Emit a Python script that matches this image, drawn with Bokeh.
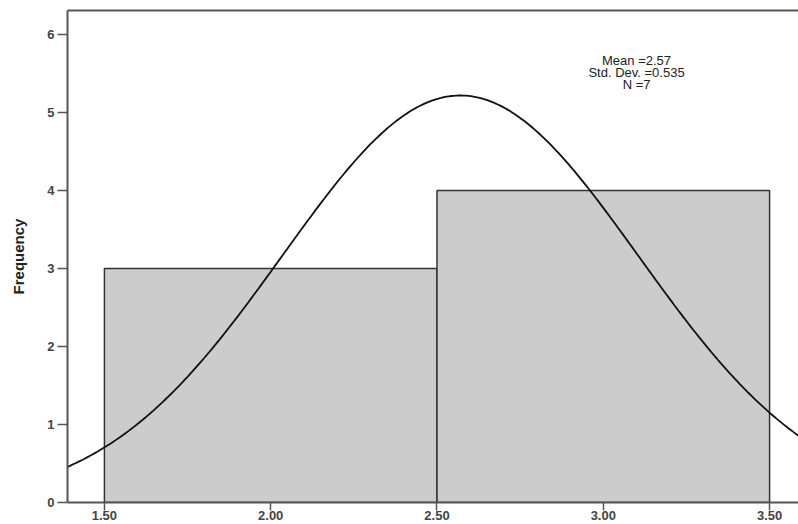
import numpy as np
from bokeh.plotting import figure
from bokeh.models import FixedTicker, NumeralTickFormatter, LinearAxis, Range1d, ColumnDataSource
from bokeh.core.properties import value
from bokeh.embed import file_html
from bokeh.resources import INLINE

# Histogram data
bin_left = [1.5, 2.5]
bin_right = [2.5, 3.5]
counts = [3, 4]

# Stated statistics
mean = 2.57
std_dev = 0.535
n_obs = 7
bin_width = 1.0

stats_lines = ["Mean =2.57", "Std. Dev. =0.535", "N =7"]
x_ticks = [1.5, 2.0, 2.5, 3.0, 3.5]
y_ticks = [0, 1, 2, 3, 4, 5, 6]

x0, x1 = 1.389, 3.587
y0, y1 = 0, 6.31

p = figure(width=798, height=524, output_backend="svg", toolbar_location=None,
           x_range=Range1d(x0, x1), y_range=Range1d(y0, y1),
           min_border_left=67, min_border_right=0, min_border_top=10, min_border_bottom=22)
p.outline_line_color = None
p.xgrid.visible = False
p.ygrid.visible = False
p.background_fill_color = "white"

p.quad(left=bin_left, right=bin_right, bottom=0, top=counts,
       fill_color="#cccccc", line_color="#333333", line_width=1.5)

xs = np.linspace(x0, x1, 300)
ys = n_obs * bin_width / (std_dev * np.sqrt(2 * np.pi)) * np.exp(-0.5 * ((xs - mean) / std_dev) ** 2)
p.line(xs, ys, line_color="#111111", line_width=1.8)

src = ColumnDataSource(dict(x=[3.1] * 3, y=[5.67, 5.515, 5.36], t=stats_lines))
p.text(x="x", y="y", text="t", source=src, text_align="center", text_baseline="middle",
       text_font=value("Liberation Sans"), text_font_size="13px", text_color="#222222")

for ax in (p.xaxis[0], p.yaxis[0]):
    ax.axis_line_color = "#555555"
    ax.axis_line_width = 2
    ax.major_tick_line_color = "#555555"
    ax.major_tick_line_width = 1.5
    ax.major_tick_in = 0
    ax.minor_tick_line_color = None
    ax.major_label_text_font = "Liberation Sans"
    ax.major_label_text_font_style = "bold"
    ax.major_label_text_color = "#444444"

p.xaxis.ticker = FixedTicker(ticks=x_ticks)
p.xaxis.formatter = NumeralTickFormatter(format="0.00")
p.xaxis.major_tick_out = 8
p.xaxis.major_label_standoff = 0
p.xaxis.major_label_text_font_size = "13px"
p.yaxis.ticker = FixedTicker(ticks=y_ticks)
p.yaxis.major_tick_out = 10
p.yaxis.major_label_standoff = 3
p.yaxis.major_label_text_font_size = "13px"
p.yaxis.axis_label = "Frequency"
p.yaxis.axis_label_text_font = "Liberation Sans"
p.yaxis.axis_label_text_font_style = "bold"
p.yaxis.axis_label_text_font_size = "15px"
p.yaxis.axis_label_text_color = "#222222"
p.yaxis.axis_label_standoff = 17

top = LinearAxis(ticker=FixedTicker(ticks=[]), major_label_text_font_size="0px",
                 axis_line_color="#555555", axis_line_width=2, major_tick_line_color=None,
                 minor_tick_line_color=None)
p.add_layout(top, "above")

open("out.html", "w").write(file_html(p, INLINE))
